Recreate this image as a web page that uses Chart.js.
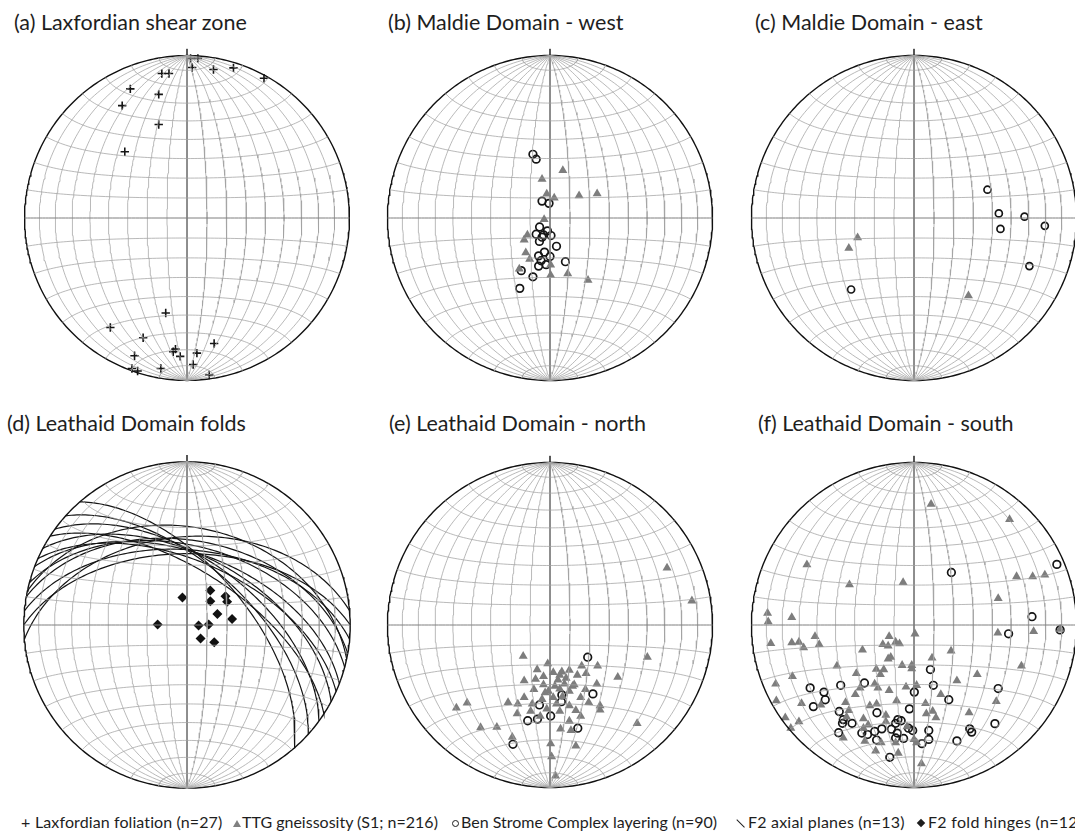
<!DOCTYPE html>
<html>
<head>
<meta charset="utf-8">
<script src="https://cdn.jsdelivr.net/npm/chart.js@4.4.1/dist/chart.umd.min.js"></script>
<style>
  body { margin: 0; width: 1075px; height: 833px; overflow: hidden; background: #fff; position: relative; font-family: Lato, "Open Sans", sans-serif; color: #1e1e1e; }
  canvas { position: absolute; }
  .title { position: absolute; font-size: 21.5px; line-height: 21.5px; white-space: nowrap; }
  .key { position: absolute; top: 814px; font-size: 16px; line-height: 16px; white-space: nowrap; }
  .sym { position: absolute; }
</style>
</head>
<body>
<div class="title" style="left:14px;top:12px">(a) Laxfordian shear zone</div>
<div class="title" style="left:388px;top:12px">(b) Maldie Domain - west</div>
<div class="title" style="left:755px;top:12px">(c) Maldie Domain - east</div>
<div class="title" style="left:7px;top:413px">(d) Leathaid Domain folds</div>
<div class="title" style="left:389px;top:413px">(e) Leathaid Domain - north</div>
<div class="title" style="left:758px;top:413px">(f) Leathaid Domain - south</div>

<canvas id="netA" width="350" height="350" style="left:12px;top:43px"></canvas>
<canvas id="netB" width="350" height="350" style="left:375px;top:43px"></canvas>
<canvas id="netC" width="350" height="350" style="left:739px;top:43px"></canvas>
<canvas id="netD" width="350" height="350" style="left:12px;top:450px"></canvas>
<canvas id="netE" width="350" height="350" style="left:375px;top:450px"></canvas>
<canvas id="netF" width="350" height="350" style="left:739px;top:450px"></canvas>

<!-- key along the bottom -->
<div class="key" style="left:21px">+</div>
<div class="key" style="left:35px;letter-spacing:0.1px">Laxfordian foliation (n=27)</div>
<div class="sym" style="left:233px;top:820px;width:0;height:0;border-left:4px solid transparent;border-right:4px solid transparent;border-bottom:7px solid #808080"></div>
<div class="key" style="left:242px">TTG gneissosity (S1; n=216)</div>
<div class="sym" style="left:452px;top:820px;width:5px;height:5px;border:1.4px solid #1e1e1e;border-radius:50%"></div>
<div class="key" style="left:461px">Ben Strome Complex layering (n=90)</div>
<div class="sym" style="left:735px;top:823px;width:11px;height:1.3px;background:#1e1e1e;transform:rotate(45deg)"></div>
<div class="key" style="left:748px;letter-spacing:0.2px">F2 axial planes (n=13)</div>
<div class="sym" style="left:918px;top:820px;width:6px;height:6px;background:#1e1e1e;transform:rotate(45deg)"></div>
<div class="key" style="left:928px;letter-spacing:0.3px">F2 fold hinges (n=12)</div>

<script>
// projected positions on the net, primitive radius = 1, north up
const laxFoliationA = [
  [0.022, 0.983], [0.067, 0.983], [0.032, 0.927], [0.163, 0.914], [0.286, 0.924], [0.474, 0.860],
  [-0.155, 0.890], [-0.111, 0.890], [-0.349, 0.795], [-0.174, 0.761], [-0.399, 0.692], [-0.174, 0.576],
  [-0.383, 0.408], [-0.131, -0.585], [-0.472, -0.674], [-0.270, -0.737], [0.167, -0.773], [-0.071, -0.807],
  [-0.085, -0.823], [-0.042, -0.852], [0.061, -0.832], [-0.323, -0.848], [0.038, -0.902], [-0.339, -0.927],
  [-0.304, -0.942], [-0.161, -0.927], [0.137, -0.967]
];

const ttgB = [
  [0.079, 0.293], [-0.049, 0.239], [-0.020, 0.148], [0.026, 0.124], [0.179, 0.137], [0.290, 0.150],
  [-0.036, -0.009], [-0.139, -0.104], [-0.159, -0.134], [-0.149, -0.213], [-0.125, -0.253], [-0.189, -0.313],
  [0.004, -0.289], [0.004, -0.352], [0.109, -0.342], [0.234, -0.382]
];
const bscB = [
  [-0.105, 0.392], [-0.085, 0.362], [-0.049, 0.104], [-0.006, 0.090], [-0.064, -0.055], [-0.085, -0.100],
  [-0.040, -0.104], [-0.016, -0.079], [0.006, -0.108], [-0.049, -0.118], [-0.065, -0.144], [0.040, -0.174],
  [-0.070, -0.233], [-0.034, -0.210], [0.000, -0.237], [-0.055, -0.263], [-0.070, -0.296], [-0.024, -0.287],
  [0.095, -0.269], [-0.177, -0.324], [-0.105, -0.362], [-0.186, -0.433]
];

const ttgC = [[-0.347, -0.121], [-0.401, -0.186], [0.335, -0.478]];
const bscC = [
  [0.452, 0.174], [0.522, 0.028], [0.680, 0.008], [0.805, -0.048], [0.532, -0.067], [0.710, -0.296],
  [-0.387, -0.440]
];

// F2 axial planes as dip direction / dip (degrees)
const axialDipDirD = [49, 42, 36, 33, 28, 24, 21, 15, 10, 5, 0, 355, 12];
const axialDipD = [61, 60, 57, 63, 55, 58, 54, 50, 47, 52, 54, 45, 40];
const hingesD = [
  [-0.028, 0.168], [0.143, 0.211], [0.143, 0.146], [0.236, 0.176], [0.246, 0.142], [0.186, 0.068],
  [0.276, 0.036], [-0.180, 0.003], [0.071, -0.003], [0.133, 0.003], [0.083, -0.082], [0.167, -0.106]
];

const ttgE = [
  [0.720, 0.351], [0.873, 0.149], [-0.165, -0.192], [0.599, -0.198], [-0.014, -0.238], [-0.079, -0.274],
  [0.020, -0.292], [0.073, -0.288], [0.119, -0.278], [0.195, -0.252], [0.293, -0.252], [0.168, -0.308],
  [0.222, -0.298], [-0.040, -0.317], [0.049, -0.338], [-0.159, -0.343], [0.417, -0.321], [0.288, -0.363],
  [-0.040, -0.367], [0.030, -0.377], [0.089, -0.363], [0.139, -0.377], [-0.099, -0.397], [-0.010, -0.407],
  [0.119, -0.407], [0.218, -0.397], [-0.159, -0.446], [-0.049, -0.457], [0.020, -0.446], [0.189, -0.446],
  [-0.258, -0.476], [-0.198, -0.486], [-0.109, -0.486], [0.040, -0.486], [0.119, -0.496], [0.308, -0.496],
  [-0.576, -0.510], [-0.510, -0.480], [-0.202, -0.546], [-0.119, -0.530], [-0.020, -0.516], [0.060, -0.530],
  [0.159, -0.526], [0.308, -0.522], [-0.060, -0.561], [0.189, -0.561], [0.536, -0.605], [-0.427, -0.631],
  [-0.327, -0.629], [0.119, -0.591], [0.065, -0.639], [0.129, -0.649], [-0.232, -0.690], [0.004, -0.730],
  [0.159, -0.744], [0.010, -0.810], [0.034, -0.929], [0.060, -0.308], [0.099, -0.327], [0.149, -0.367],
  [0.060, -0.393], [-0.089, -0.333], [0.238, -0.476], [-0.030, -0.417], [0.077, -0.440]
];
const bscE = [
  [0.232, -0.198], [0.073, -0.430], [0.070, -0.472], [0.264, -0.424], [-0.065, -0.492], [0.004, -0.560],
  [-0.077, -0.579], [-0.137, -0.589], [0.171, -0.635], [-0.228, -0.734]
];

const ttgF = [
  [0.105, 0.744], [0.588, 0.649], [-0.659, 0.371], [-0.397, 0.248], [-0.067, 0.262], [0.631, 0.298],
  [0.730, 0.298], [0.805, 0.308], [0.518, 0.163], [-0.901, 0.073], [-0.752, 0.046], [-0.897, 0.020],
  [-0.881, -0.113], [-0.752, -0.109], [-0.708, -0.105], [-0.679, -0.139], [-0.609, -0.070], [-0.583, -0.119],
  [-0.317, -0.153], [-0.153, -0.070], [-0.192, -0.119], [-0.159, -0.129], [-0.113, -0.105], [-0.089, -0.115],
  [0.006, -0.054], [0.228, -0.159], [0.516, -0.049], [0.736, -0.040], [0.899, -0.026], [-0.159, -0.208],
  [-0.143, -0.198], [0.111, -0.202], [-0.474, -0.252], [-0.073, -0.248], [-0.014, -0.248], [-0.014, -0.268],
  [-0.232, -0.272], [-0.186, -0.274], [-0.355, -0.298], [-0.207, -0.304], [0.661, -0.252], [0.389, -0.304],
  [-0.748, -0.317], [0.264, -0.343], [-0.851, -0.363], [-0.242, -0.363], [-0.222, -0.387], [-0.153, -0.403],
  [-0.049, -0.381], [0.016, -0.371], [0.165, -0.427], [-0.361, -0.427], [-0.332, -0.387], [-0.847, -0.466],
  [-0.692, -0.482], [-0.573, -0.492], [-0.421, -0.476], [-0.401, -0.526], [-0.272, -0.496], [-0.230, -0.486],
  [-0.107, -0.466], [0.071, -0.482], [0.076, -0.546], [0.115, -0.530], [0.135, -0.570], [0.506, -0.470],
  [0.339, -0.540], [-0.792, -0.570], [-0.708, -0.595], [-0.758, -0.635], [-0.415, -0.565], [-0.311, -0.576],
  [-0.173, -0.555], [-0.173, -0.595], [-0.282, -0.615], [-0.311, -0.635], [-0.435, -0.695], [-0.302, -0.714],
  [-0.202, -0.724], [-0.113, -0.724], [0.000, -0.704], [0.016, -0.724], [-0.236, -0.774], [-0.097, -0.788],
  [0.046, -0.853], [-0.043, -0.625]
];
const bscF = [
  [0.230, 0.323], [0.879, 0.373], [0.726, 0.051], [0.582, -0.054], [0.899, -0.030], [0.101, -0.274],
  [0.119, -0.371], [-0.305, -0.357], [-0.451, -0.371], [-0.639, -0.387], [-0.554, -0.413], [-0.546, -0.460],
  [-0.619, -0.502], [0.002, -0.413], [0.214, -0.460], [0.518, -0.391], [-0.028, -0.516], [-0.228, -0.540],
  [-0.460, -0.532], [-0.435, -0.582], [-0.440, -0.605], [-0.381, -0.605], [-0.099, -0.582], [-0.079, -0.589],
  [-0.113, -0.605], [-0.034, -0.635], [-0.008, -0.649], [0.091, -0.649], [0.498, -0.607], [0.343, -0.639],
  [0.355, -0.659], [0.264, -0.713], [0.091, -0.704], [0.049, -0.730], [-0.064, -0.698], [-0.103, -0.665],
  [-0.113, -0.695], [-0.198, -0.639], [-0.242, -0.655], [-0.230, -0.708], [-0.286, -0.674], [-0.321, -0.665],
  [-0.464, -0.663], [-0.149, -0.814], [-0.139, -0.641]
];

const RAD = Math.PI / 180;
const HALF = 175 / 168; // canvas half-width in primitive radii
const GRID = '#a2a2a2';
const AXIS = '#7e7e7e';

// lower-hemisphere equal-area projection of a unit vector (east, north, down)
function project(e, n, d) {
  const k = 1 / Math.sqrt(1 + d);
  return { x: e * k, y: n * k };
}

function greatCircle(dipDir, dip) {
  const sT = (dipDir - 90) * RAD, dT = dipDir * RAD, p = dip * RAD;
  const s = [Math.sin(sT), Math.cos(sT), 0];
  const v = [Math.cos(p) * Math.sin(dT), Math.cos(p) * Math.cos(dT), Math.sin(p)];
  const pts = [];
  for (let i = 0; i <= 120; i++) {
    const g = i * Math.PI / 120;
    pts.push(project(
      Math.cos(g) * s[0] + Math.sin(g) * v[0],
      Math.cos(g) * s[1] + Math.sin(g) * v[1],
      Math.max(0, Math.cos(g) * s[2] + Math.sin(g) * v[2])));
  }
  return pts;
}

// small circle about the N-S axis, alpha degrees from north
function smallCircle(alpha) {
  const a = alpha * RAD, pts = [];
  for (let i = 0; i <= 90; i++) {
    const b = i * Math.PI / 90;
    pts.push(project(Math.sin(a) * Math.cos(b), Math.cos(a), Math.sin(a) * Math.sin(b)));
  }
  return pts;
}

function lineSet(data, color, width) {
  return { type: 'scatter', data, showLine: true, borderColor: color, borderWidth: width,
           pointRadius: 0, fill: false, tension: 0 };
}

function netGrid() {
  const sets = [];
  for (let a = 10; a <= 170; a += 10) {
    sets.push(a === 90 ? lineSet(smallCircle(a), AXIS, 1) : lineSet(smallCircle(a), GRID, 0.75));
  }
  for (let dip = 10; dip <= 80; dip += 10) {
    sets.push(lineSet(greatCircle(90, dip), GRID, 0.75));
    sets.push(lineSet(greatCircle(270, dip), GRID, 0.75));
  }
  sets.push(lineSet(greatCircle(90, 90), AXIS, 1));
  const rim = [];
  for (let i = 0; i <= 360; i++) rim.push({ x: Math.sin(i * RAD), y: Math.cos(i * RAD) });
  sets.push(lineSet(rim, '#111', 1.4));
  sets.push(lineSet([{ x: 0, y: 1 }, { x: 0, y: 1.045 }], '#111', 1.4));
  return sets;
}

const toPts = arr => arr.map(([x, y]) => ({ x, y }));

function crosses(arr) {
  return { data: toPts(arr), pointStyle: 'cross', pointRadius: 4.2, borderColor: '#151515', borderWidth: 1.6 };
}
function triangles(arr) {
  return { data: toPts(arr), pointStyle: 'triangle', pointRadius: 5.2, backgroundColor: '#7d7d7d', borderColor: '#7d7d7d', borderWidth: 0 };
}
function rings(arr, r) {
  return { data: toPts(arr), pointStyle: 'circle', pointRadius: r || 3.8, backgroundColor: 'rgba(0,0,0,0)', borderColor: '#151515', borderWidth: 1.7 };
}
function diamonds(arr) {
  return { data: toPts(arr), pointStyle: 'rectRot', pointRadius: 5, backgroundColor: '#111', borderColor: '#111', borderWidth: 0 };
}

function drawNet(id, marks) {
  new Chart(document.getElementById(id), {
    type: 'scatter',
    data: { datasets: netGrid().concat(marks) },
    options: {
      responsive: false,
      animation: false,
      events: [],
      layout: { padding: 0 },
      scales: {
        x: { type: 'linear', display: false, min: -HALF, max: HALF },
        y: { type: 'linear', display: false, min: -HALF, max: HALF }
      },
      plugins: { legend: { display: false }, tooltip: { enabled: false } }
    }
  });
}

drawNet('netA', [crosses(laxFoliationA)]);
drawNet('netB', [triangles(ttgB), rings(bscB)]);
drawNet('netC', [triangles(ttgC), rings(bscC, 3.5)]);
drawNet('netD', axialDipDirD.map((dd, i) => lineSet(greatCircle(dd, axialDipD[i]), '#151515', 1.2))
  .concat([diamonds(hingesD)]));
drawNet('netE', [triangles(ttgE), rings(bscE)]);
drawNet('netF', [triangles(ttgF), rings(bscF)]);
</script>
</body>
</html>
